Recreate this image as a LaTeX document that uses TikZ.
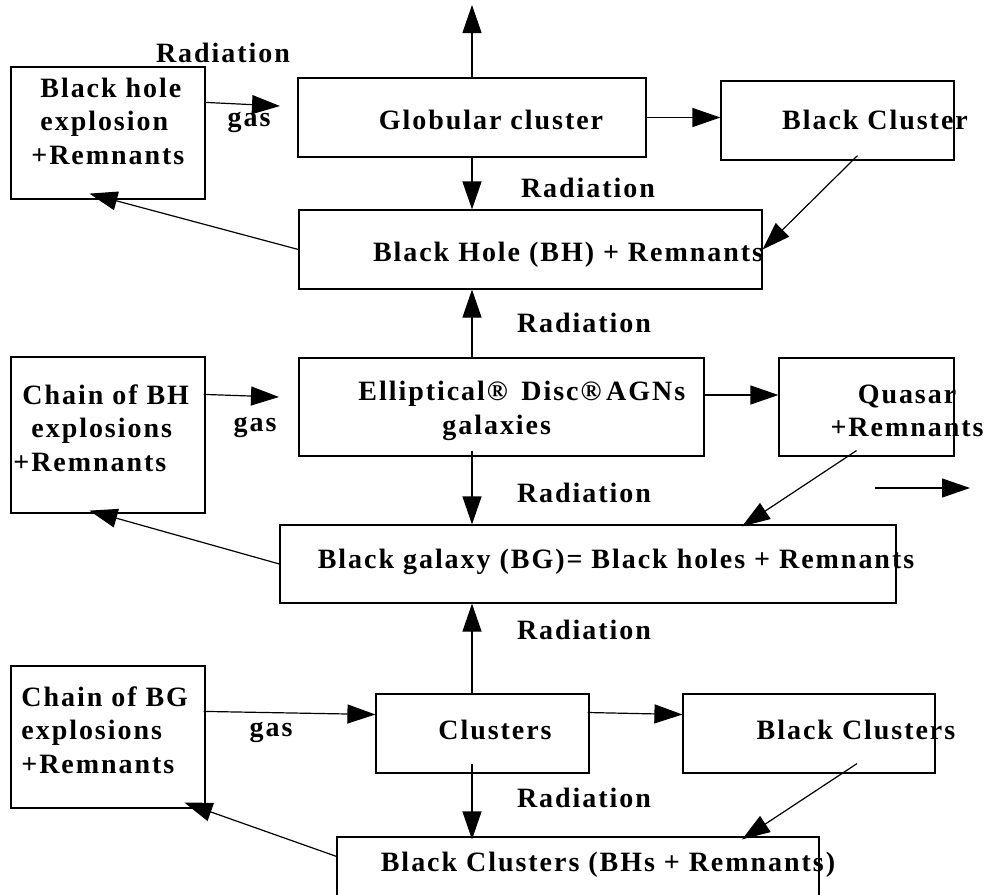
\documentclass[tikz,border=0pt]{standalone}
\usepackage{fontspec}
\setmainfont{Liberation Serif}[LetterSpace=7]
\usepackage{tikz}
\usetikzlibrary{arrows.meta,positioning,fit,calc}

\begin{document}
\begin{tikzpicture}[
x=0.5pt, y=-0.5pt,
font=\fontsize{14}{16.75}\selectfont\bfseries,
box/.style={draw, line width=0.6pt, inner sep=0pt},
lbl/.style={inner sep=0pt, align=center},
arrow/.style={-{Triangle[length=14pt,width=9.5pt]}, line width=0.6pt}
]
\useasboundingbox (0,0) rectangle (987,895);
% boxes
\node[box, fit={(11,67) (205,199)}] (bhx) {};
\node[box, fit={(298,78) (646,157)}] (glob) {};
\node[box, fit={(721,81) (954,160)}] (bcl) {};
\node[box, fit={(299,210) (762,289)}] (bh) {};
\node[box, fit={(11,357) (205,513)}] (cbh) {};
\node[box, fit={(299,358) (704,456)}] (ell) {};
\node[box, fit={(779,358) (954,456)}] (qua) {};
\node[box, fit={(280,525) (896,603)}] (bg) {};
\node[box, fit={(11,666) (205,808)}] (cbg) {};
\node[box, fit={(376,694) (589,773)}] (clu) {};
\node[box, fit={(683,694) (935,773)}] (bcs) {};
\node[box, fit={(337,837) (819,910)}] (bot) {};
% texts
\node[lbl, anchor=west, align=left] (bhxtext) at (31,121) {\hspace*{4.5pt}Black hole\\\hspace*{4.5pt}explosion\\+Remnants};
\node[lbl] (globtext) at (491,120) {Globular cluster};
\node[lbl] (bcltext) at (875,120) {Black Cluster};
\node[lbl] (bhtext) at (568,255) {Black Hole (BH) + Remnants};
\node[lbl, anchor=west, align=left] (cbhtext) at (13,428) {\hspace*{4.5pt}Chain of BH\\\hspace*{9pt}explosions\\+Remnants};
\node[lbl, anchor=west, align=left] (elltext) at (358,411) {Elliptical® \,Disc®\,AGNs\\\hspace*{42pt}galaxies};
\node[lbl] (quatext) at (907,411) {Quasar\\+Remnants};
\node[lbl] (bgtext) at (616,562) {Black galaxy (BG)= Black holes + Remnants};
\node[lbl, anchor=west, align=left] (cbgtext) at (21,730) {Chain of BG\\explosions\\+Remnants};
\node[lbl] (clutext) at (495,730) {Clusters};
\node[lbl] (bcstext) at (856,730) {Black Clusters};
\node[lbl] (bottext) at (608,865) {Black Clusters (BHs + Remnants)};
% edge labels
\node[lbl] (rad1) at (223,53) {Radiation};
\node[lbl] (gas1) at (249,122) {gas};
\node[lbl] (rad2) at (588,188) {Radiation};
\node[lbl] (rad3) at (584,323) {Radiation};
\node[lbl] (gas2) at (255,427) {gas};
\node[lbl] (rad4) at (584,493) {Radiation};
\node[lbl] (rad5) at (584,630) {Radiation};
\node[lbl] (gas3) at (271,732) {gas};
\node[lbl] (rad6) at (584,798) {Radiation};
% free ends
\coordinate (up) at (472,5);
\coordinate (gasin1) at (280,106);
\coordinate (gasin2) at (279,397);
\coordinate (outa) at (875,488);
\coordinate (outb) at (970,488);
% arrows
\draw[arrow] (glob.north) -- (up);
\draw[arrow] (glob.east) -- (glob.east -| bcl.west);
\draw[arrow] ($(bhx.north east)+(0,36)$) -- (gasin1);
\draw[arrow] (glob.south) -- (glob.south |- bh.north);
\draw[arrow] (bh.west) -- ($(bhx.south west)+(79,-6)$);
\draw[arrow] ($(bcl.south)+(20,-5)$) -- (bh.east);
\draw[arrow] (ell.north -| glob.north) -- (bh.south -| glob.north);
\draw[arrow] ($(cbh.north east)+(-2,38)$) -- (gasin2);
\draw[arrow] ($(ell.east)+(0,-12)$) -- ($(qua.west)+(0,-12)$);
\draw[arrow] ($(qua.south)+(-10,-6)$) -- ($(bg.north)+(154,2)$);
\draw[arrow] (outa) -- (outb);
\draw[arrow] ($(ell.south -| glob.north)+(0,-6)$) -- (bg.north -| glob.north);
\draw[arrow] (bg.west) -- ($(cbh.south west)+(79,-3)$);
\draw[arrow] (clu.north -| glob.north) -- (bg.south -| glob.north);
\draw[arrow] ($(cbg.north east)+(-2,46)$) -- ($(clu.west)+(0,-19)$);
\draw[arrow] ($(clu.east)+(-2,-21)$) -- ($(bcs.west)+(0,-19)$);
\draw[arrow] ($(bcs.south)+(48,-10)$) -- ($(bot.north)+(164,3)$);
\draw[arrow] ($(clu.south -| glob.north)+(0,-10)$) -- ($(bot.north -| glob.north)+(0,3)$);
\draw[arrow] ($(bot.north west)+(0,20)$) -- ($(cbg.south west)+(174,-6)$);
\end{tikzpicture}
\end{document}
